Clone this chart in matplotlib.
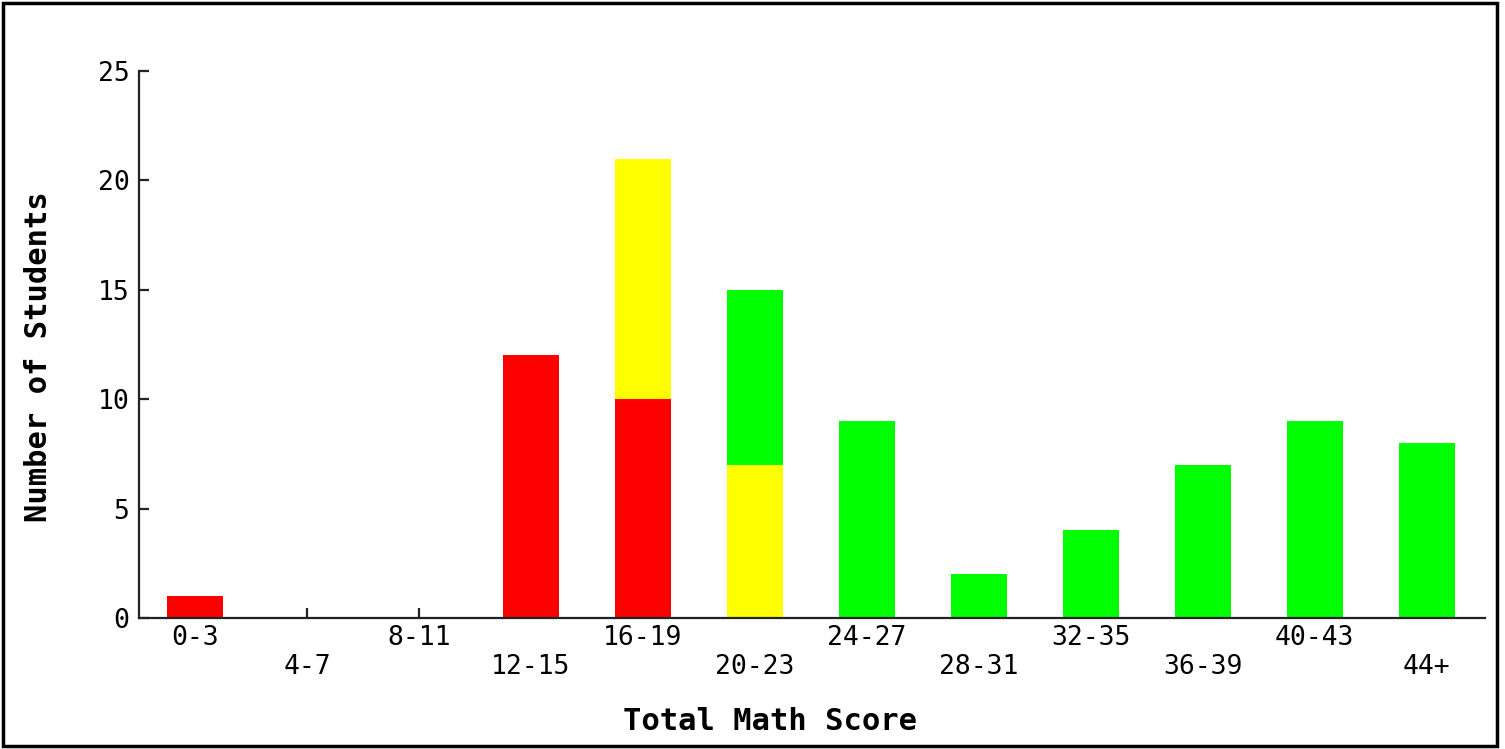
import matplotlib.pyplot as plt
from matplotlib.patches import Rectangle
import numpy as np

# Score bins and stacked counts per colour band
categories = ['0-3', '4-7', '8-11', '12-15', '16-19', '20-23',
              '24-27', '28-31', '32-35', '36-39', '40-43', '44+']
red = [1, 0, 0, 12, 10, 0, 0, 0, 0, 0, 0, 0]
yellow = [0, 0, 0, 0, 11, 7, 0, 0, 0, 0, 0, 0]
green = [0, 0, 0, 0, 0, 8, 9, 2, 4, 7, 9, 8]
y_ticks = [0, 5, 10, 15, 20, 25]

plt.rcParams.update({
    'font.family': 'DejaVu Sans Mono',
    'font.size': 19,
})

fig = plt.figure(figsize=(15.05, 7.49), dpi=100)
ax = fig.add_axes([0.0924, 0.1749, 0.8943, 0.7303])
ax.set_axisbelow(True)  # bars hide the inward ticks

x = np.arange(len(categories))
red = np.array(red)
yellow = np.array(yellow)
green = np.array(green)

ax.bar(x, red, width=0.5, color='#ff0000', linewidth=0)
ax.bar(x, yellow, width=0.5, bottom=red, color='#ffff00', linewidth=0)
ax.bar(x, green, width=0.5, bottom=red + yellow, color='#00ff00', linewidth=0)

ax.set_xlim(-0.5, 11.52)
ax.set_ylim(0, 25)
ax.set_yticks(y_ticks)
ax.set_xticks(x)
# alternate the labels on two rows
ax.set_xticklabels([c if i % 2 == 0 else '\n' + c for i, c in enumerate(categories)],
                   linespacing=1.15)

for side in ['top', 'right']:
    ax.spines[side].set_visible(False)
for side in ['left', 'bottom']:
    ax.spines[side].set_linewidth(1.6)
    ax.spines[side].set_color('#222222')

ax.tick_params(axis='both', direction='in', length=7, width=1.6, color='#222222')
ax.tick_params(axis='x', pad=5)
ax.tick_params(axis='y', pad=7)

ax.set_xlabel('Total Math Score', fontsize=22, fontweight='bold')
ax.set_ylabel('Number of Students', fontsize=22, fontweight='bold')
ax.xaxis.set_label_coords(0.469, -0.163)
ax.yaxis.set_label_coords(-0.064, 0.477)

# frame around the whole picture
fig.patches.append(Rectangle((0.002, 0.004), 0.993, 0.992, transform=fig.transFigure,
                             fill=False, edgecolor='black', linewidth=2.5))

fig.savefig('out.png', dpi=100)
